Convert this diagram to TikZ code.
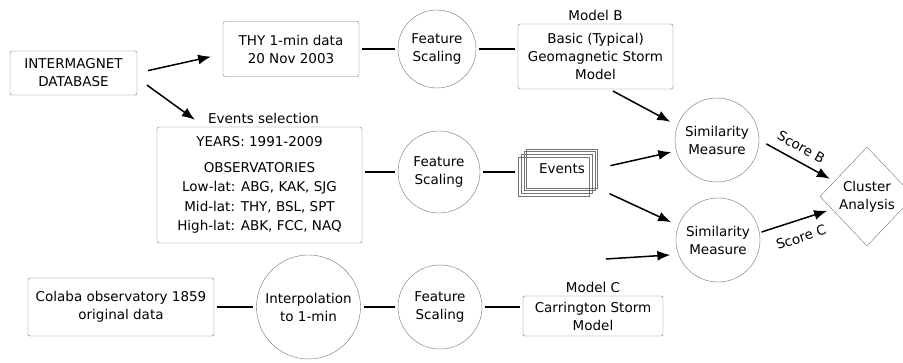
\documentclass[tikz,border=0pt]{standalone}
\usepackage{fontspec}
\setmainfont{DejaVu Sans}
\usetikzlibrary{positioning,shapes.geometric,arrows.meta}

\begin{document}
\begin{tikzpicture}[x=1pt, y=-1pt, >={Latex[length=13pt,width=10pt]},
        every node/.style={font=\fontsize{13.5}{18}\selectfont, align=center},
        box/.style={draw=black!55, rectangle, rounded corners=2pt, thin, inner sep=2pt},
        stackbox/.style={draw=black!55, rectangle, thin, minimum width=71pt, minimum height=39pt},
        proc/.style={draw=black!55, circle, thin, inner sep=1pt},
        decide/.style={draw=black!55, diamond, thin, minimum width=94pt, minimum height=99pt, inner sep=0pt},
        link/.style={line width=1.5pt, shorten <=3pt, shorten >=3pt},
        arrow/.style={->, line width=1.5pt}]
        \useasboundingbox (0,0) rectangle (903,363);

        % Nodes
        \node (imdb) [box, minimum width=127pt, minimum height=44pt] at (73.5,73) {INTERMAGNET\\DATABASE};
        \node (thy) [box, minimum width=136pt, minimum height=55pt] at (291,49) {THY 1-min data\\20 Nov 2003};
        \node (yrs) [box, minimum width=205pt, minimum height=116pt, font=\fontsize{13.5}{19.5}\selectfont] at (259.5,185)
            {YEARS: 1991-2009\\[6pt]OBSERVATORIES\\Low-lat: ABG, KAK, SJG\\Mid-lat: THY, BSL, SPT\\High-lat: ABK, FCC, NAQ};
        \node (evsel) [above=0pt of yrs, xshift=4pt] {Events selection};
        \node (fs1) [proc, minimum size=78pt] at (437,49) {Feature\\Scaling};
        \node (fs2) [proc, minimum size=82pt] at (439,172) {Feature\\Scaling};
        \node (fs3) [proc, minimum size=84pt] at (440,307) {Feature\\Scaling};
        \node (mb) [box, minimum width=155pt, minimum height=65pt] at (595.5,56.5) {Basic (Typical)\\Geomagnetic Storm\\Model};
        \node (mbl) [above=0pt of mb] {Model B};
        \node (events) [stackbox] at (562,168.5) {Events};
        \foreach \k in {1,2,3}
            \node (ev\k) [stackbox, shift={({-2.7*\k},{2.7*\k})}] at (events) {};
        \node (sim1) [proc, minimum size=84pt] at (717,140) {Similarity\\Measure};
        \node (sim2) [proc, minimum size=84pt] at (718,240) {Similarity\\Measure};
        \node (cl) [decide] at (867,196.5) {Cluster\\Analysis};
        \node (colaba) [box, minimum width=186pt, minimum height=58pt] at (121,307) {Colaba observatory 1859\\original data};
        \node (interp) [proc, minimum size=104pt] at (308.5,307) {Interpolation\\to 1-min};
        \node (mc) [box, minimum width=140pt, minimum height=40pt] at (593,316) {Carrington Storm\\Model};
        \node (mcl) [above=0pt of mc] {Model C};
        \coordinate (cfeed) at (606,259);

        % Lines
        \draw[link] (thy) -- (fs1);
        \draw[link] (fs1) -- (fs1 -| mb.west);
        \draw[link] (fs2 -| yrs.east) -- (fs2);
        \draw[link] (fs2) -- (fs2 -| ev3.west);
        \draw[link] (colaba) -- (interp);
        \draw[link] (interp) -- (fs3);
        \draw[link] (fs3) -- (fs3 -| mc.west);

        % Arrows
        \draw[arrow, shorten <=11pt, shorten >=12pt] (imdb.east) -- ([yshift=-5pt]thy.west);
        \draw[arrow, shorten <=12pt, shorten >=12pt] ([yshift=-5pt]imdb.east) -- (evsel.south west);
        \draw[arrow, shorten <=4pt, shorten >=8pt] ([xshift=14pt]mb.south) -- (sim1.160);
        \draw[arrow, shorten <=13pt, shorten >=5pt] (events.east) -- (sim1.195);
        \draw[arrow, shorten <=13pt, shorten >=8pt] (events.south east) -- (sim2.160);
        \draw[arrow, shorten >=8pt] (cfeed) -- (sim2.200);
        \draw[arrow, shorten <=8pt, shorten >=5pt] (sim1.east) -- node[pos=0.47, above=5pt, sloped] {Score B} (cl.155);
        \draw[arrow, shorten <=2pt, shorten >=5pt] (sim2.10) -- node[pos=0.5, below=8pt, sloped] {Score C} (cl.200);
    \end{tikzpicture}
\end{document}
